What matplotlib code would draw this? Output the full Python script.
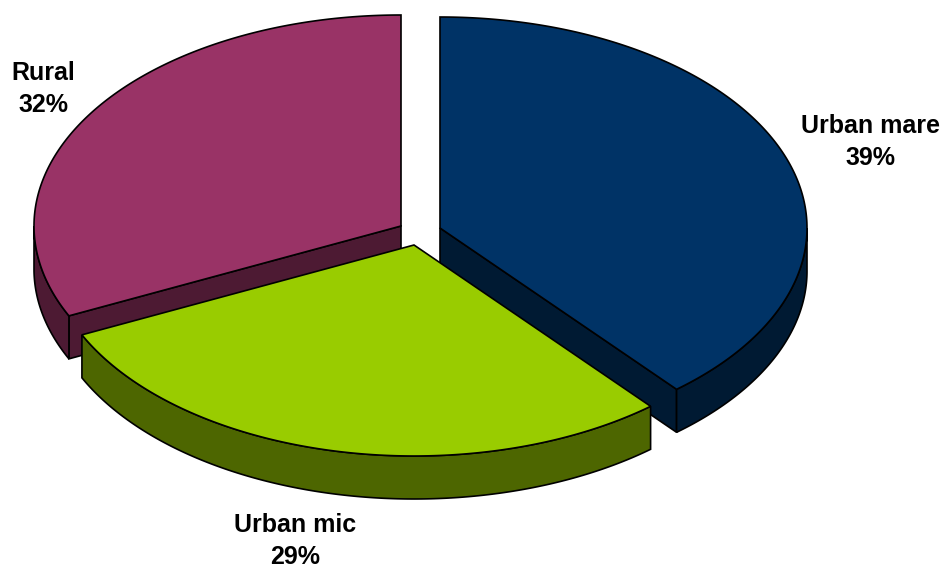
import numpy as np
import matplotlib
matplotlib.use("Agg")
import matplotlib.pyplot as plt

plt.rcParams['font.family'] = ['Liberation Sans', 'DejaVu Sans']

# share of each slice, clockwise from 12 o'clock
labels = ["Urban mare", "Urban mic", "Rural"]
shares = [38.85, 29.15, 32.0]
tops = ["#003366", "#99CC00", "#993366"]
sides = ["#001A33", "#4D6600", "#4D1A33"]

# pie geometry in pixels
rx, ry = 367, 211
depth = 43
centers = [(440, 228), (414, 245), (401, 226)]
label_pos = [(870, 142), (295, 541), (43, 89)]


def arc(cx, cy, a0, a1, dy=0):
    t = np.radians(np.linspace(a0, a1, 200))
    return np.column_stack([cx + rx * np.cos(t), cy - ry * np.sin(t) + dy])


def draw_cut(ax, c, a, side, z):
    cx, cy = c
    p = arc(cx, cy, a, a)[0]
    ax.fill([cx, p[0], p[0], cx], [cy, p[1], p[1] + depth, cy + depth],
            fc=side, ec="black", lw=1.2, zorder=z)


def draw_slice(ax, c, a0, a1, top, side, z):
    cx, cy = c
    # cut faces are only seen when they run down towards the viewer
    if np.sin(np.radians(a0)) < 0 and np.cos(np.radians(a0)) < 0:
        draw_cut(ax, c, a0, side, z)
    if np.sin(np.radians(a1)) < 0 and np.cos(np.radians(a1)) > 0:
        draw_cut(ax, c, a1, side, z)
    # outer rim, lower half of the ellipse only
    lo, hi = min(a0, a1), max(a0, a1)
    lo, hi = max(lo, -180), min(hi, 0)
    if lo < hi:
        rim = np.vstack([arc(cx, cy, lo, hi), arc(cx, cy, hi, lo, depth)])
        ax.fill(rim[:, 0], rim[:, 1], fc=side, ec="black", lw=1.2, zorder=z)
    edge = arc(cx, cy, a0, a1)
    ax.fill(np.r_[cx, edge[:, 0]], np.r_[cy, edge[:, 1]],
            fc=top, ec="black", lw=1.2, zorder=z)


fig = plt.figure(figsize=(9.46, 5.68), dpi=100)
ax = fig.add_axes([0, 0, 1, 1])
ax.set_xlim(0, 946)
ax.set_ylim(568, 0)
ax.axis("off")

start = 90
angles = []
for s in shares:
    angles.append((start, start - s * 3.6))
    start -= s * 3.6

# back slices first, green is in front
for i, z in [(2, 1), (0, 2), (1, 3)]:
    draw_slice(ax, centers[i], angles[i][0], angles[i][1], tops[i], sides[i], z)

for lab, s, p in zip(labels, shares, label_pos):
    ax.text(p[0], p[1], f"{lab}\n{round(s)}%", ha="center", va="center",
            fontsize=18, fontweight="bold", color="black", linespacing=1.42)

fig.savefig("out.png", dpi=100)
